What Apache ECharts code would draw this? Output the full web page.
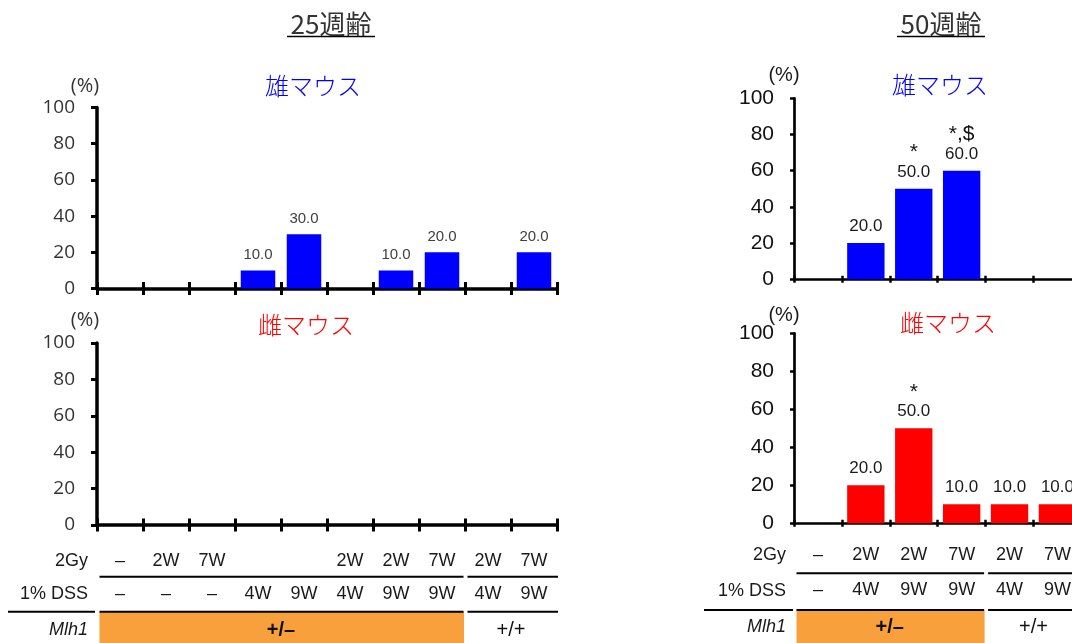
<!DOCTYPE html>
<html>
<head>
<meta charset="utf-8">
<script src="https://cdn.jsdelivr.net/npm/echarts@6/dist/echarts.min.js"></script>
<style>
  html, body { margin: 0; padding: 0; background: #fff; }
  #chart { width: 1072px; height: 643px; }
</style>
</head>
<body>
<div id="chart"></div>
<script>
// ---- 25 weeks of age: treatment groups and tumour incidence (%) ----
const gy25     = ['–', '2W', '7W', '', '', '2W', '2W', '7W', '2W', '7W'];
const dss25    = ['–', '–', '–', '4W', '9W', '4W', '9W', '9W', '4W', '9W'];
const mlh1_25  = ['+/–', '+/–', '+/–', '+/–', '+/–', '+/–', '+/–', '+/–', '+/+', '+/+'];
const male25   = [0, 0, 0, 10, 30, 0, 10, 20, 0, 20];
const female25 = [0, 0, 0, 0, 0, 0, 0, 0, 0, 0];

// ---- 50 weeks of age ----
const gy50        = ['–', '2W', '2W', '7W', '2W', '7W'];
const dss50       = ['–', '4W', '9W', '9W', '4W', '9W'];
const mlh1_50     = ['+/–', '+/–', '+/–', '+/–', '+/+', '+/+'];
const male50      = [0, 20, 50, 60, 0, 0];
const female50    = [0, 20, 50, 10, 10, 10];
const maleSig50   = ['', '', '*', '*,$', '', ''];
const femaleSig50 = ['', '', '*', '', '', ''];

// ---- y axis ----
const yMin = 0, yMax = 100, yStep = 20;

// unique category keys built from the three table rows
const keys = (m, g, d) => m.map((v, i) => v + ' ' + g[i] + ' ' + d[i]);
const cats25 = keys(mlh1_25, gy25, dss25);
const cats50 = keys(mlh1_50, gy50, dss50);

const F_CAL = '"Open Sans", Lato, sans-serif';
const F_ARIAL = '"Liberation Sans", Arial, sans-serif';
const F_JP = '"Noto Sans CJK JP", "Noto Sans CJK SC", sans-serif';

const chart = echarts.init(document.getElementById('chart'), null, { renderer: 'canvas' });

const grids = [
  { left: 97,  top: 107.5, width: 460,   height: 181, outerBoundsMode: 'none' },
  { left: 97,  top: 343,   width: 460,   height: 182, outerBoundsMode: 'none' },
  { left: 794, top: 98.3,  width: 287.4, height: 181, outerBoundsMode: 'none' },
  { left: 794, top: 333.3, width: 287.4, height: 190, outerBoundsMode: 'none' }
];

const styleL = { line: 3.5, tick: 3, tickLen: 6.5, yTickLen: 6 };
const styleR = { line: 2.7, tick: 2.5, tickLen: 3.5, yTickLen: 4 };

function baseCat(gridIndex, data) {
  return {
    type: 'category', gridIndex, data, boundaryGap: true, position: 'bottom', offset: 0,
    axisLine: { show: false }, axisTick: { show: false },
    axisLabel: { show: false }, splitLine: { show: false }
  };
}
function mainX(gridIndex, data, st) {
  const a = baseCat(gridIndex, data);
  a.axisLine = { show: true, onZero: false, lineStyle: { color: '#000', width: st.line } };
  a.axisTick = { show: true, interval: 0, length: st.tickLen, lineStyle: { color: '#000', width: st.tick } };
  return a;
}
function innerX(gridIndex, data, st) {
  const a = baseCat(gridIndex, data);
  a.axisTick = { show: true, inside: true, interval: 0, length: st.tickLen, lineStyle: { color: '#000', width: st.tick } };
  return a;
}
function rowX(gridIndex, keysArr, labels, margin) {
  const a = baseCat(gridIndex, keysArr);
  a.axisLabel = {
    show: true, interval: 0, margin, hideOverlap: false,
    formatter: (v, i) => labels[i],
    fontFamily: F_ARIAL, fontSize: 18, color: '#1a1a1a'
  };
  return a;
}
function yAx(gridIndex, st, font, size, color, margin) {
  return {
    type: 'value', gridIndex, min: yMin, max: yMax, interval: yStep, position: 'left',
    axisLine: { show: true, lineStyle: { color: '#000', width: st.line } },
    axisTick: { show: true, length: st.yTickLen, lineStyle: { color: '#000', width: st.tick } },
    splitLine: { show: false },
    axisLabel: { fontFamily: font, fontSize: size, color, margin }
  };
}

function barSeries(xi, yi, data, color, gap, sig, fontSize, labelColor) {
  return {
    type: 'bar', xAxisIndex: xi, yAxisIndex: yi, data,
    barCategoryGap: gap,
    itemStyle: { color },
    label: {
      show: true, position: 'top', distance: 7,
      fontFamily: F_ARIAL, fontSize, color: labelColor,
      formatter: p => {
        if (!(p.value > 0)) return '';
        const v = p.value.toFixed(1);
        const s = sig ? sig[p.dataIndex] : '';
        return s ? '{s|' + s + '}\n{v|' + v + '}' : '{v|' + v + '}';
      },
      rich: {
        s: { fontFamily: F_ARIAL, fontSize: 21, color: '#111', lineHeight: 21, align: 'center' },
        v: { fontFamily: F_ARIAL, fontSize, color: labelColor, lineHeight: fontSize + 2, align: 'center' }
      }
    }
  };
}

const xAxes = [
  mainX(0, cats25, styleL),            // 0
  innerX(0, cats25, styleL),           // 1
  mainX(1, cats25, styleL),            // 2
  innerX(1, cats25, styleL),           // 3
  rowX(1, cats25, gy25, 27),           // 4
  rowX(1, cats25, dss25, 60),          // 5
  mainX(2, cats50, styleR),            // 6
  innerX(2, cats50, styleR),           // 7
  mainX(3, cats50, styleR),            // 8
  innerX(3, cats50, styleR),           // 9
  rowX(3, cats50, gy50, 23),           // 10
  rowX(3, cats50, dss50, 58)           // 11
];

const yAxes = [
  yAx(0, styleL, F_CAL, 19, '#333', 22),
  yAx(1, styleL, F_CAL, 19, '#333', 22),
  yAx(2, styleR, F_ARIAL, 21, '#111', 20),
  yAx(3, styleR, F_ARIAL, 21, '#111', 20)
];

chart.setOption({
  animation: false,
  grid: grids,
  xAxis: xAxes,
  yAxis: yAxes,
  series: [
    barSeries(0, 0, male25, '#0000ff', '25%', null, 15, '#404040'),
    barSeries(2, 1, female25, '#ff0000', '25%', null, 15, '#404040'),
    barSeries(6, 2, male50, '#0000ff', '22%', maleSig50, 17, '#1a1a1a'),
    barSeries(8, 3, female50, '#ff0000', '22%', femaleSig50, 17, '#1a1a1a')
  ]
});

// ---- headings, panel captions and the treatment table ----
const g = [];
function txt(x, y, text, font, size, color, align, extra) {
  g.push({
    type: 'text', x, y, silent: true,
    style: Object.assign({ text, fontFamily: font, fontSize: size, fill: color, align: align || 'center', verticalAlign: 'middle' }, extra || {})
  });
}
function line(x1, y1, x2, y2, w) {
  g.push({ type: 'line', silent: true, shape: { x1, y1, x2, y2 }, style: { stroke: '#000', lineWidth: w || 2 } });
}

// age headings with underline
txt(331, 24, '25週齢', F_JP, 26, '#333');
line(287, 36.5, 375, 36.5, 1.5);
txt(941, 24, '50週齢', F_JP, 26, '#333');
line(897, 36.5, 985, 36.5, 1.5);

// sex captions
txt(313, 86, '雄マウス', F_JP, 24, '#0000ff', 'center', { fontWeight: 300 });
txt(306, 325, '雌マウス', F_JP, 24, '#ff0000', 'center', { fontWeight: 300 });
txt(940, 85, '雄マウス', F_JP, 24, '#0000ff', 'center', { fontWeight: 300 });
txt(948, 323, '雌マウス', F_JP, 24, '#ff0000', 'center', { fontWeight: 300 });

// unit labels
txt(85, 86, '(%)', F_CAL, 20, '#333');
txt(85, 320, '(%)', F_CAL, 20, '#333');
txt(784, 75, '(%)', F_ARIAL, 20, '#1a1a1a');
txt(784, 315, '(%)', F_ARIAL, 20, '#1a1a1a');

function runs(arr) {
  const out = [];
  arr.forEach((v, i) => {
    if (out.length && out[out.length - 1].v === v) out[out.length - 1].end = i;
    else out.push({ v, start: i, end: i });
  });
  return out;
}

function table(xAxisIndex, mlh1, cfg) {
  const c0 = chart.convertToPixel({ xAxisIndex }, 0);
  const c1 = chart.convertToPixel({ xAxisIndex }, 1);
  const w = c1 - c0;
  const edge = i => c0 - w / 2 + i * w;
  const groups = runs(mlh1);

  // orange band behind the heterozygous group
  groups.forEach(gr => {
    if (gr.v === '+/–') {
      g.push({
        type: 'rect', silent: true, z: -1,
        shape: { x: edge(gr.start) + 2.5, y: cfg.row2Y, width: edge(gr.end + 1) - 1 - (edge(gr.start) + 2.5), height: 643 - cfg.row2Y + 2 },
        style: { fill: '#f7a03c' }
      });
    }
  });

  // row headers
  txt(cfg.headRight, cfg.yGy, '2Gy', F_ARIAL, 18, '#1a1a1a', 'right');
  txt(cfg.headRight, cfg.yDss, '1% DSS', F_ARIAL, 18, '#1a1a1a', 'right');
  txt(cfg.headRight, cfg.yMlh, 'Mlh1', F_ARIAL, 18, '#1a1a1a', 'right', { fontStyle: 'italic' });

  // rules
  line(cfg.headLine[0], cfg.row2Y, cfg.headLine[1], cfg.row2Y, 2);
  groups.forEach((gr, k) => {
    const xa = edge(gr.start) + 2.5;
    const xb = k === groups.length - 1 ? edge(gr.end + 1) + 1 : edge(gr.end + 1) - 1.5;
    line(xa, cfg.row1Y, xb, cfg.row1Y, 2);
    line(xa, cfg.row2Y, xb, cfg.row2Y, 2);
    txt((edge(gr.start) + edge(gr.end + 1)) / 2, cfg.yMlh, gr.v, F_ARIAL, 20, '#111', 'center',
        gr.v === '+/–' ? { fontWeight: 'bold' } : {});
  });
}

table(2, mlh1_25, { row1Y: 576.7, row2Y: 611.7, headLine: [8, 95], headRight: 88, yGy: 561, yDss: 594.3, yMlh: 630 });
table(8, mlh1_50, { row1Y: 573.3, row2Y: 610, headLine: [704, 793], headRight: 786, yGy: 555, yDss: 590.7, yMlh: 627 });

chart.setOption({ graphic: g });
</script>
</body>
</html>
